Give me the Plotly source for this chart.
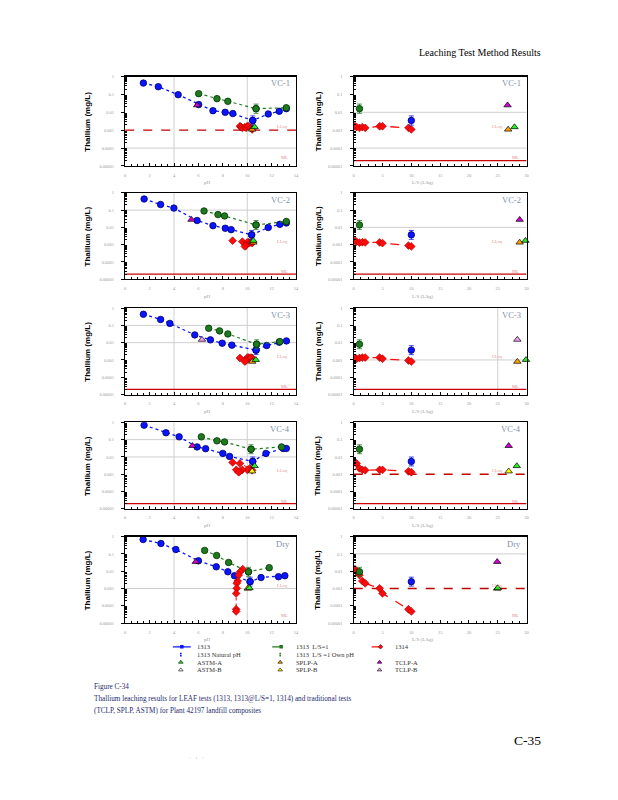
import plotly.graph_objects as go

W, H = 618, 800

# ------------------------------------------------------------------ data
panel_names = ["VC-1", "VC-2", "VC-3", "VC-4", "Dry"]
y_tickvals = [1e-5, 1e-4, 1e-3, 1e-2, 1e-1, 1]
y_ticktext = ["0.00001", "0.0001", "0.001", "0.01", "0.1", "1"]
ph_tickvals = [0, 2, 4, 6, 8, 10, 12, 14]
ph_ticktext = ["0", "2", "4", "6", "8", "10", "12", "14"]
ls_tickvals = [0, 5, 10, 15, 20, 25, 30]
ls_ticktext = ["0", "5", "10", "15", "20", "25", "30"]

# EPA 1313 (pH dependence), Tl in mg/L
m1313_ph = [
    [1.49, 2.71, 4.34, 6.02, 7.19, 8.19, 8.82, 10.45, 11.72, 12.62, 13.20],
    [1.55, 2.90, 3.99, 5.89, 7.19, 8.20, 8.68, 10.36, 11.72, 12.67, 13.20],
    [1.49, 2.90, 3.66, 5.70, 6.98, 7.95, 8.74, 10.72, 11.59, 12.62, 13.21],
    [1.55, 3.34, 4.42, 5.89, 6.59, 8.00, 8.55, 10.45, 11.53, 12.94, 13.20],
    [1.47, 2.93, 4.15, 6.00, 7.46, 8.41, 8.95, 10.23, 11.13, 12.56, 13.08],
]
m1313_tl = [
    [0.43, 0.27, 0.096, 0.027, 0.0123, 0.010, 0.0085, 0.0035, 0.0081, 0.0114, 0.016],
    [0.44, 0.21, 0.13, 0.025, 0.0126, 0.0089, 0.0074, 0.0037, 0.0098, 0.015, 0.018],
    [0.44, 0.22, 0.13, 0.028, 0.0145, 0.0093, 0.0072, 0.0037, 0.0068, 0.0107, 0.0126],
    [0.69, 0.25, 0.145, 0.038, 0.030, 0.016, 0.0107, 0.0055, 0.016, 0.031, 0.031],
    [0.68, 0.40, 0.18, 0.040, 0.018, 0.0093, 0.0055, 0.0025, 0.0043, 0.0048, 0.0055],
]
# 1313 natural pH (L/S = 10)
nat_ph = [10.45, 10.36, 10.72, 10.45, 10.23]
nat_tl = [0.0035, 0.0037, 0.0037, 0.0055, 0.0025]
nat_ls = 10

# 1313 at L/S = 1
ls1_ph = [
    [6.02, 7.52, 8.41, 10.72, 13.20],
    [6.46, 7.60, 8.14, 10.72, 13.20],
    [6.84, 7.73, 8.41, 10.77, 12.67],
    [6.24, 7.52, 8.14, 10.31, 12.81],
    [6.51, 7.49, 8.47, 10.10, 11.80],
]
ls1_tl = [
    [0.11, 0.058, 0.041, 0.016, 0.018],
    [0.089, 0.055, 0.046, 0.0138, 0.022],
    [0.068, 0.048, 0.032, 0.0081, 0.0115],
    [0.145, 0.085, 0.074, 0.028, 0.038],
    [0.16, 0.081, 0.032, 0.0093, 0.016],
]
own_ph = [10.72, 10.72, 10.77, 10.31, 10.10]
own_tl = [0.016, 0.0138, 0.0081, 0.028, 0.0093]
own_ls = 1

# EPA 1314 (column)
m1314_ls = [0.2, 0.5, 1.0, 1.5, 2.0, 4.5, 5.0, 9.5, 10.0]
m1314_ph = [
    [9.4, 9.5, 9.6, 9.8, 9.9, 10.0, 10.1, 10.3, 10.4],
    [8.8, 9.6, 10.2, 10.1, 10.0, 10.3, 10.4, 9.9, 9.8],
    [9.4, 10.2, 10.4, 10.1, 10.0, 10.3, 10.2, 9.9, 9.8],
    [8.8, 9.4, 10.2, 10.0, 10.4, 9.6, 9.1, 9.4, 9.3],
    [9.63, 9.42, 9.30, 9.22, 9.14, 9.14, 9.09, 9.09, 9.09],
]
m1314_tl = [
    [0.00166, 0.0015, 0.00135, 0.00148, 0.00135, 0.00166, 0.00166, 0.00135, 0.0011],
    [0.0017, 0.0015, 0.0013, 0.00138, 0.00135, 0.00135, 0.00123, 0.00089, 0.00079],
    [0.0013, 0.00117, 0.0013, 0.00138, 0.00138, 0.00138, 0.00117, 0.00093, 0.00081],
    [0.0048, 0.0042, 0.0022, 0.0018, 0.0017, 0.0018, 0.0018, 0.00148, 0.0013],
    [0.0132, 0.0093, 0.006, 0.0027, 0.002, 0.00102, 0.00052, 0.000063, 0.000047],
]

# traditional tests (x position on the L/S panel as plotted)
tclp_type = ["TCLP-A", "TCLP-A", "TCLP-B", "TCLP-A", "TCLP-A"]
tclp_ph = [5.90, 5.43, 6.29, 5.51, 5.78]
tclp_tl = [0.025, 0.028, 0.015, 0.044, 0.035]
tclp_ls = [26.7, 28.8, 28.4, 26.9, 24.9]
splp_type = ["SPLP-A", "SPLP-A", "SPLP-A", "SPLP-B", "SPLP-A"]
splp_ph = [10.40, 10.50, 10.40, 10.40, 10.04]
splp_tl = [0.0011, 0.00135, 0.0008, 0.00148, 0.0010]
splp_ls = [26.8, 28.8, 28.4, 26.9, 24.9]
astm_type = ["ASTM-A", "ASTM-A", "ASTM-A", "ASTM-A", "ASTM-A"]
astm_ph = [10.60, 10.50, 10.70, 10.60, 10.18]
astm_tl = [0.0015, 0.0017, 0.00102, 0.0030, 0.00107]
astm_ls = [27.9, 29.8, 29.9, 28.3, 25.0]

lloq = 0.001
ml = 2e-5

# reference lines in each panel
grid_h_left = [[1e-4], [0.1], [0.1, 0.01], [0.1, 0.01], [0.001]]
grid_v_left = [4, 10]
grid_h_right = [[0.01, 1e-4], [0.01], [0.001], [], [0.1]]
grid_v_right = [[], [], [25], [], []]
lloq_line_left = [True, False, False, False, False]
lloq_line_right = [False, False, False, True, True]
ml_line_left = [False, True, True, True, False]
ml_line_right = [True, True, True, True, False]

legend_labels = ["1313", "1313  L/S=1", "1314",
                 "1313 Natural pH", "1313  L/S =1 Own pH", "",
                 "ASTM-A", "SPLP-A", "TCLP-A",
                 "ASTM-B", "SPLP-B", "TCLP-B"]

# ------------------------------------------------------------------ styles
BLUE, BLUE_E = "#0a14ff", "#00006e"
GREEN, GREEN_E = "#1f7a1f", "#003300"
RED, RED_E = "#ff0a0a", "#9a0000"
GRID = "#cfcfcf"
TRI = {"ASTM-A": "#22ee22", "ASTM-B": "#ffffff", "SPLP-A": "#ffa200",
       "SPLP-B": "#ffff00", "TCLP-A": "#d000d0", "TCLP-B": "#f2a0f2"}
SERIF = "Liberation Serif"
SANS = "Liberation Sans"

LEFT_X = (125, 297)
RIGHT_X = (355, 529)
ROW_TOP = [75, 192, 308, 423, 538]
ROW_BOT = [165, 279, 395, 510, 625]

fig = go.Figure()
layout = {}
annotations = []


def px_x(p):
    return p / W


def px_y(p):
    return 1 - p / H


def add(xa, ya, x, y, **kw):
    fig.add_trace(go.Scatter(x=x, y=y, xaxis=xa, yaxis=ya, showlegend=False,
                             hoverinfo="skip", **kw))


def errbars(vals, color):
    return dict(type="data", array=[v * 0.8 for v in vals],
                arrayminus=[v * 0.45 for v in vals], color=color,
                thickness=0.8, width=2.5)


for i in range(5):
    for side in (0, 1):
        n = 2 * i + 1 + side
        sfx = "" if n == 1 else str(n)
        xa, ya = "x" + sfx, "y" + sfx
        x0p, x1p = LEFT_X if side == 0 else RIGHT_X
        xmax = 14 if side == 0 else 30
        layout["xaxis" + sfx] = dict(
            domain=[px_x(x0p), px_x(x1p)], anchor=ya, range=[0, xmax],
            tickmode="array",
            tickvals=ph_tickvals if side == 0 else ls_tickvals,
            ticktext=ph_ticktext if side == 0 else ls_ticktext,
            ticks="inside", ticklen=3, tickcolor="black",
            minor=dict(ticks="inside", ticklen=2, tickcolor="black",
                       dtick=0.5 if side == 0 else 1.25, showgrid=False),
            tickfont=dict(family=SERIF, size=4.5, color="#9a9a9a"),
            ticklabelstandoff=4,
            showline=True, linecolor="black", linewidth=1.2, mirror=True,
            showgrid=False, zeroline=False, fixedrange=True)
        minor_vals = [k * 10.0 ** d for d in range(-5, 0) for k in range(2, 10)]
        layout["yaxis" + sfx] = dict(
            domain=[px_y(ROW_BOT[i]), px_y(ROW_TOP[i])], anchor=xa,
            type="log", range=[-5, 0], tickmode="array",
            tickvals=y_tickvals, ticktext=y_ticktext,
            ticks="outside", ticklen=3, tickcolor="black",
            minor=dict(tickmode="array", tickvals=minor_vals, ticks="inside",
                       ticklen=2, tickcolor="black", showgrid=False),
            tickfont=dict(family=SERIF, size=4.5, color="#9a9a9a"),
            ticklabelstandoff=6,
            showline=True, linecolor="black", linewidth=1.2, mirror=True,
            showgrid=False, zeroline=False, fixedrange=True)

        # reference lines
        hl = grid_h_left[i] if side == 0 else grid_h_right[i]
        vl = grid_v_left if side == 0 else grid_v_right[i]
        for h in hl:
            add(xa, ya, [0, xmax], [h, h], mode="lines",
                line=dict(color=GRID, width=1))
        for v in vl:
            add(xa, ya, [v, v], [1e-5, 1], mode="lines",
                line=dict(color=GRID, width=1))
        if (lloq_line_left if side == 0 else lloq_line_right)[i]:
            add(xa, ya, [0, xmax], [lloq, lloq], mode="lines",
                line=dict(color="#c00000", width=1.3, dash="dash"))
        if (ml_line_left if side == 0 else ml_line_right)[i]:
            add(xa, ya, [0, xmax], [ml, ml], mode="lines",
                line=dict(color="#c80000", width=1.3))

        if side == 0:
            add(xa, ya, m1313_ph[i], m1313_tl[i], mode="lines+markers",
                line=dict(color=BLUE, width=1.3, dash="dot"),
                marker=dict(symbol="circle", size=6.5, color=BLUE,
                            line=dict(color=BLUE_E, width=0.8)))
            add(xa, ya, ls1_ph[i], ls1_tl[i], mode="lines+markers",
                line=dict(color=GREEN, width=1.2, dash="dot"),
                marker=dict(symbol="circle", size=6.5, color=GREEN,
                            line=dict(color=GREEN_E, width=0.8)))
            add(xa, ya, m1314_ph[i], m1314_tl[i], mode="lines+markers",
                line=dict(color=RED, width=1, dash="dot"),
                marker=dict(symbol="diamond", size=6, color=RED,
                            line=dict(color=RED_E, width=0.6)))
            add(xa, ya, [nat_ph[i]], [nat_tl[i]], mode="markers",
                error_y=errbars([nat_tl[i]], BLUE),
                marker=dict(symbol="circle", size=6.5, color=BLUE,
                            line=dict(color=BLUE_E, width=0.8)))
            add(xa, ya, [own_ph[i]], [own_tl[i]], mode="markers",
                error_y=errbars([own_tl[i]], GREEN),
                marker=dict(symbol="circle", size=6.5, color=GREEN,
                            line=dict(color=GREEN_E, width=0.8)))
            tx = [tclp_ph[i], splp_ph[i], astm_ph[i]]
        else:
            add(xa, ya, m1314_ls, m1314_tl[i], mode="lines+markers",
                line=dict(color=RED, width=1.3, dash="dash"),
                marker=dict(symbol="diamond", size=6, color=RED,
                            line=dict(color=RED_E, width=0.6)))
            add(xa, ya, [own_ls], [own_tl[i]], mode="markers",
                error_y=errbars([own_tl[i]], GREEN),
                marker=dict(symbol="circle", size=6.5, color=GREEN,
                            line=dict(color=GREEN_E, width=0.8)))
            add(xa, ya, [nat_ls], [nat_tl[i]], mode="markers",
                error_y=errbars([nat_tl[i]], BLUE),
                marker=dict(symbol="circle", size=6.5, color=BLUE,
                            line=dict(color=BLUE_E, width=0.8)))
            tx = [tclp_ls[i], splp_ls[i], astm_ls[i]]
        tys = [tclp_tl[i], splp_tl[i], astm_tl[i]]
        tts = [tclp_type[i], splp_type[i], astm_type[i]]
        for xv, yv, tt in zip(tx, tys, tts):
            add(xa, ya, [xv], [yv], mode="markers", cliponaxis=False,
                marker=dict(symbol="triangle-up", size=6.5, color=TRI[tt],
                            line=dict(color="black", width=0.7)))

        # panel texts
        top, bot = ROW_TOP[i], ROW_BOT[i]
        annotations.append(dict(
            text=panel_names[i], x=px_x(x1p - 4), y=px_y(top + 7),
            xref="paper", yref="paper", xanchor="right", yanchor="middle",
            showarrow=False, font=dict(family=SERIF, size=8.5, color="#7f8fab")))
        annotations.append(dict(
            text="<b>Thallium (mg/L)</b>", textangle=-90,
            x=px_x(87 if side == 0 else 319), y=px_y((top + bot) / 2),
            xref="paper", yref="paper", xanchor="center", yanchor="middle",
            showarrow=False, font=dict(family=SANS, size=8, color="black")))
        annotations.append(dict(
            text="pH" if side == 0 else "L/S (L/kg)",
            x=px_x(208 if side == 0 else 425), y=px_y(bot + 17),
            xref="paper", yref="paper", xanchor="center", yanchor="middle",
            showarrow=False, font=dict(family=SERIF, size=5, color="#9a9a9a")))
        dec = (bot - top) / 5.0
        annotations.append(dict(
            text="LLoq", x=px_x(x1p - 6 if side == 0 else x1p - 22),
            y=px_y(top + 2.8 * dec), xref="paper", yref="paper",
            xanchor="right", yanchor="middle", showarrow=False,
            font=dict(family=SERIF, size=4.5, color="#e89a9a")))
        annotations.append(dict(
            text="ML", x=px_x(x1p - 6), y=px_y(top + 4.55 * dec),
            xref="paper", yref="paper", xanchor="right", yanchor="middle",
            showarrow=False, font=dict(family=SERIF, size=4.5, color="#e08a8a")))

# ------------------------------------------------------------------ legend (own axis)
LG = "11"
layout["xaxis" + LG] = dict(domain=[px_x(160), px_x(460)], anchor="y" + LG,
                            range=[0, 3], visible=False, fixedrange=True)
layout["yaxis" + LG] = dict(domain=[px_y(676), px_y(645)], anchor="x" + LG,
                            range=[4, 0], visible=False, fixedrange=True)
lx, ly = "x" + LG, "y" + LG
for k, lab in enumerate(legend_labels):
    c, r = k % 3, k // 3
    yc = r + 0.5
    if lab == "1313":
        add(lx, ly, [c + 0.13, c + 0.31], [yc, yc], mode="lines",
            line=dict(color=BLUE, width=1.2))
        add(lx, ly, [c + 0.22], [yc], mode="markers",
            marker=dict(symbol="square", size=3.5, color=BLUE))
    elif lab.startswith("1313  L/S=1"):
        add(lx, ly, [c + 0.13, c + 0.31], [yc, yc], mode="lines",
            line=dict(color=GREEN, width=1.2, dash="dash"))
        add(lx, ly, [c + 0.22], [yc], mode="markers",
            marker=dict(symbol="square", size=3.5, color=GREEN))
    elif lab == "1314":
        add(lx, ly, [c + 0.13, c + 0.31], [yc, yc], mode="lines",
            line=dict(color=RED, width=1.2, dash="dash"))
        add(lx, ly, [c + 0.22], [yc], mode="markers",
            marker=dict(symbol="diamond", size=3.5, color=RED,
                        line=dict(color="black", width=0.5)))
    elif lab == "1313 Natural pH":
        add(lx, ly, [c + 0.21, c + 0.21], [yc - 0.14, yc + 0.14], mode="markers",
            marker=dict(symbol="square", size=1.6, color=BLUE))
    elif lab.startswith("1313  L/S =1"):
        add(lx, ly, [c + 0.21, c + 0.21], [yc - 0.14, yc + 0.14], mode="markers",
            marker=dict(symbol="square", size=1.6, color=GREEN))
    elif lab in TRI:
        add(lx, ly, [c + 0.21], [yc], mode="markers",
            marker=dict(symbol="triangle-up", size=4, color=TRI[lab],
                        line=dict(color="black", width=0.6)))
    if lab:
        annotations.append(dict(
            text=lab, x=c + 0.35, y=yc, xref=lx, yref=ly, xanchor="left",
            yanchor="middle", showarrow=False,
            font=dict(family=SERIF, size=6.5, color="#333333")))

# ------------------------------------------------------------------ page texts
annotations += [
    dict(text="Leaching Test Method Results", x=px_x(546), y=px_y(51),
         xanchor="right", yanchor="middle",
         font=dict(family=SERIF, size=10, color="black")),
    dict(text="Figure C-34", x=px_x(92), y=px_y(689), xanchor="left",
         yanchor="middle", font=dict(family=SERIF, size=7.2, color="#1e2a6e")),
    dict(text="Thallium leaching results for LEAF tests (1313, 1313@L/S=1, 1314) and traditional tests",
         x=px_x(92), y=px_y(701), xanchor="left", yanchor="middle",
         font=dict(family=SERIF, size=7.2, color="#1e2a6e")),
    dict(text="(TCLP, SPLP, ASTM) for Plant 42197 landfill composites",
         x=px_x(92), y=px_y(713), xanchor="left", yanchor="middle",
         font=dict(family=SERIF, size=7.2, color="#1e2a6e")),
    dict(text="C-35", x=px_x(546), y=px_y(743), xanchor="right",
         yanchor="middle", font=dict(family=SERIF, size=13.5, color="black")),
    dict(text="·    :    ·", x=px_x(197), y=px_y(760), xanchor="center",
         yanchor="middle", font=dict(family=SERIF, size=5, color="#777777")),
]
for a in annotations[-6:]:
    a.update(xref="paper", yref="paper", showarrow=False)

fig.update_layout(
    width=W, height=H, margin=dict(l=0, r=0, t=0, b=0),
    paper_bgcolor="white", plot_bgcolor="white", showlegend=False,
    annotations=annotations, **layout)

fig.write_html("out.html",
               config={"displayModeBar": False, "staticPlot": True},
               post_script="document.body.style.margin='0';"
                           "document.body.style.overflow='hidden';")
